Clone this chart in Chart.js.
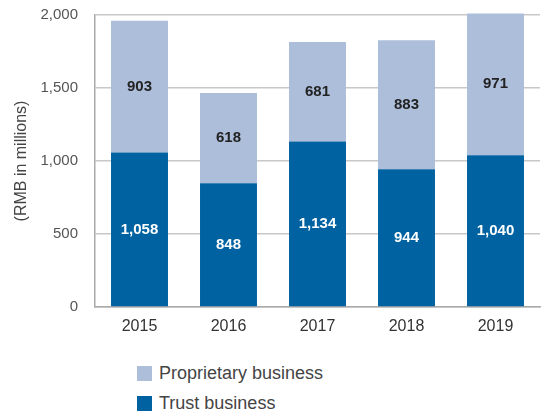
<!DOCTYPE html>
<html>
<head>
<meta charset="utf-8">
<script src="https://cdn.jsdelivr.net/npm/chart.js@4"></script>
<style>
  body { margin: 0; background: #fff; font-family: "Liberation Sans", Arial, sans-serif; }
  #wrap { position: relative; width: 545px; height: 413px; }
  #legend { position: absolute; left: 137px; top: 358px; }
  .item { display: flex; align-items: center; height: 30px; font-size: 18px; color: #444; }
  .box { width: 15px; height: 15px; margin-right: 7px; }
</style>
</head>
<body>
<div id="wrap">
  <canvas id="stackChart" width="545" height="340"></canvas>
  <div id="legend"></div>
</div>
<script>
// data
const years = ['2015', '2016', '2017', '2018', '2019'];
const trust = [1058, 848, 1134, 944, 1040];
const proprietary = [903, 618, 681, 883, 971];
const yTicks = [0, 500, 1000, 1500, 2000];

const darkBlue = '#0062a0';
const lightBlue = '#adbedb';

// numbers inside the bars
const barLabels = {
    id: 'barLabels',
    afterDatasetsDraw(chart) {
        const c = chart.ctx;
        c.save();
        c.font = 'bold 15px "Liberation Sans", Arial, sans-serif';
        c.textAlign = 'center';
        c.textBaseline = 'middle';
        chart.data.datasets.forEach((ds, i) => {
            chart.getDatasetMeta(i).data.forEach((bar, j) => {
                const mid = (bar.y + bar.base) / 2;
                c.fillStyle = ds.labelColor;
                c.fillText(ds.data[j].toLocaleString('en-US'), bar.x, mid);
            });
        });
        c.restore();
    }
};

const ctx1 = document.getElementById('stackChart');

new Chart(ctx1, {
    type: 'bar',
    data: {
        labels: years,
        datasets: [{
            label: 'Trust business',
            data: trust,
            backgroundColor: darkBlue,
            labelColor: '#ffffff',
            clip: false
        }, {
            label: 'Proprietary business',
            data: proprietary,
            backgroundColor: lightBlue,
            labelColor: '#222222',
            clip: false
        }]
    },
    options: {
        responsive: false,
        animation: false,
        layout: { padding: { top: 15, right: 5 } },
        datasets: { bar: { categoryPercentage: 0.64, barPercentage: 1 } },
        plugins: {
            legend: { display: false },
            tooltip: { enabled: false }
        },
        scales: {
            x: {
                stacked: true,
                grid: { display: false, drawTicks: false },
                border: { color: '#aaaaaa', width: 1.5 },
                ticks: { color: '#333', padding: 10, font: { size: 16, family: '"Liberation Sans", Arial' } },
                afterFit(scale) { scale.height = 33; }
            },
            y: {
                stacked: true,
                min: 0,
                max: 2000,
                afterBuildTicks(scale) { scale.ticks = yTicks.map(v => ({ value: v })); },
                grid: { color: '#c8c8c8', lineWidth: 1.5, drawTicks: false },
                border: { color: '#aaaaaa', width: 1.5 },
                ticks: {
                    color: '#555',
                    padding: 17,
                    font: { size: 15, family: '"Liberation Sans", Arial' },
                    callback: v => v.toLocaleString('en-US')
                },
                title: {
                    display: true,
                    text: '(RMB in millions)',
                    color: '#444',
                    padding: { top: 12, bottom: 0 },
                    font: { size: 16, family: '"Liberation Sans", Arial' }
                },
                afterFit(scale) {
                    scale.width = 95;
                    scale.paddingTop = 0;
                    scale.paddingBottom = 0;
                }
            }
        }
    },
    plugins: [barLabels]
});

// legend below the chart, proprietary first
const legend = document.getElementById('legend');
[['Proprietary business', lightBlue], ['Trust business', darkBlue]].forEach(([name, col]) => {
    const row = document.createElement('div');
    row.className = 'item';
    row.innerHTML = '<span class="box" style="background:' + col + '"></span>' + name;
    legend.appendChild(row);
});
</script>
</body>
</html>
